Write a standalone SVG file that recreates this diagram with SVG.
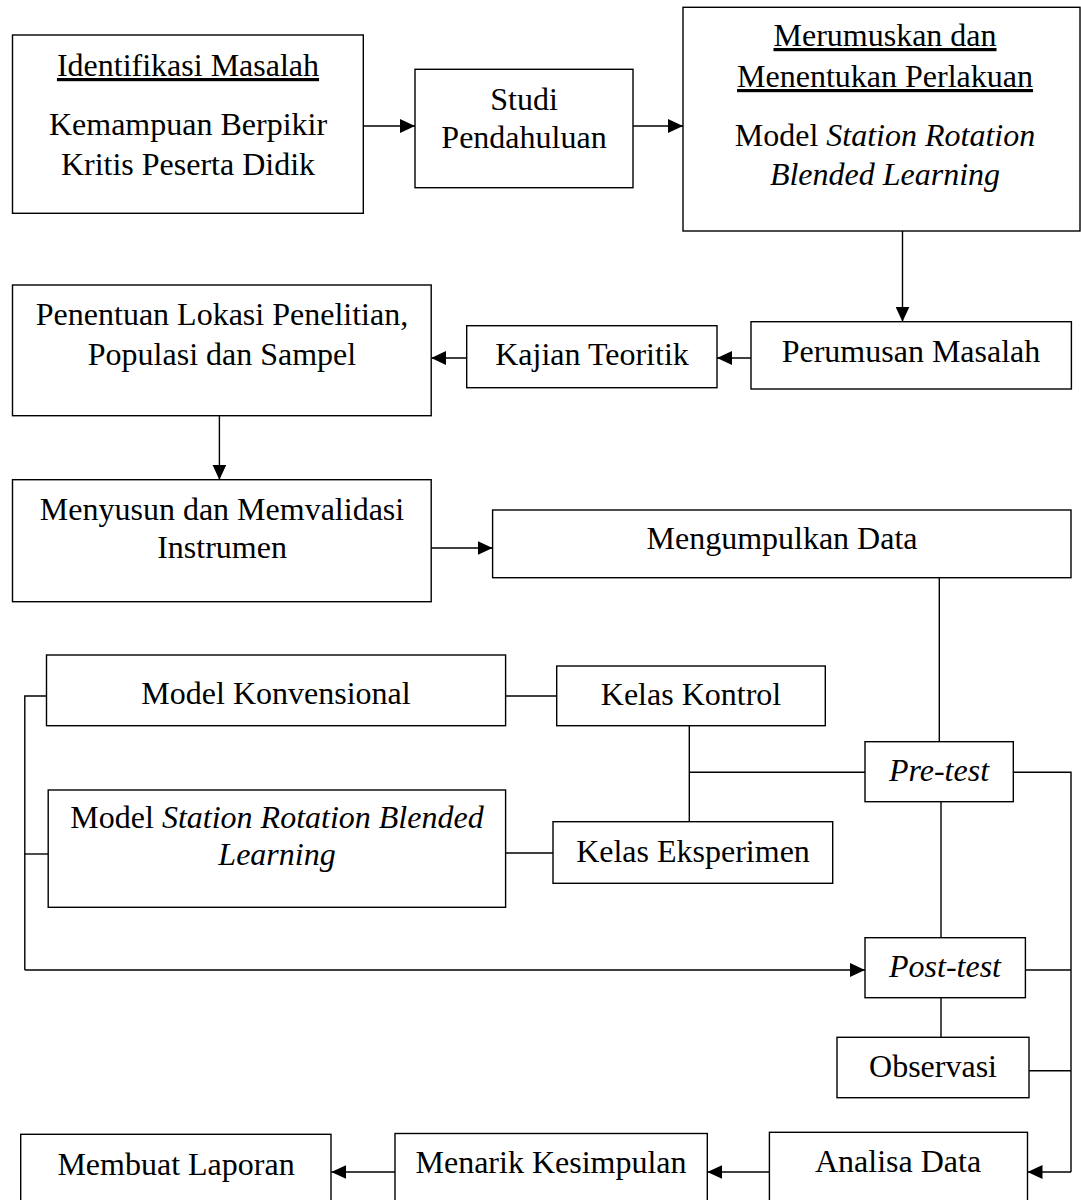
<svg xmlns="http://www.w3.org/2000/svg" width="1081" height="1200" viewBox="0 0 1081 1200">
<defs>
<style>
.box{fill:#fff;stroke:#000;stroke-width:1.4}
.ln{fill:none;stroke:#000;stroke-width:1.4}
.t{font-family:"Liberation Serif","Times New Roman",serif;font-size:32px;fill:#000;text-anchor:middle}
.u{text-decoration:underline}
.i{font-style:italic}
</style>
<marker id="ah" markerUnits="userSpaceOnUse" markerWidth="16" markerHeight="14" refX="15" refY="7" orient="auto">
<path d="M0,0 L15,7 L0,14 z" fill="#000"/>
</marker>
</defs>
<rect width="1081" height="1200" fill="#fff"/>
<g id="connectors">
<line class="ln" x1="363" y1="126" x2="415" y2="126" marker-end="url(#ah)"/>
<line class="ln" x1="633" y1="126" x2="683" y2="126" marker-end="url(#ah)"/>
<line class="ln" x1="902.5" y1="231" x2="902.5" y2="321.7" marker-end="url(#ah)"/>
<line class="ln" x1="751" y1="358" x2="717" y2="358" marker-end="url(#ah)"/>
<line class="ln" x1="466.7" y1="358" x2="431.2" y2="358" marker-end="url(#ah)"/>
<line class="ln" x1="219.4" y1="415.7" x2="219.4" y2="479.7" marker-end="url(#ah)"/>
<line class="ln" x1="431.2" y1="548" x2="492.6" y2="548" marker-end="url(#ah)"/>
<line class="ln" x1="939.3" y1="577.7" x2="939.3" y2="741.7"/>
<line class="ln" x1="505.6" y1="696" x2="556.7" y2="696"/>
<line class="ln" x1="689.3" y1="725.7" x2="689.3" y2="821.7"/>
<line class="ln" x1="689.3" y1="772.3" x2="865" y2="772.3"/>
<line class="ln" x1="505.6" y1="853" x2="553" y2="853"/>
<polyline class="ln" points="46.5,696 24.8,696 24.8,970"/>
<line class="ln" x1="48.2" y1="854" x2="24.8" y2="854"/>
<line class="ln" x1="24.8" y1="970" x2="865" y2="970" marker-end="url(#ah)"/>
<line class="ln" x1="941" y1="801.7" x2="941" y2="937.7"/>
<line class="ln" x1="941" y1="997.7" x2="941" y2="1037.3"/>
<polyline class="ln" points="1013.3,772.3 1071,772.3 1071,1172"/>
<line class="ln" x1="1025.4" y1="970" x2="1071" y2="970"/>
<line class="ln" x1="1029" y1="1070.7" x2="1071" y2="1070.7"/>
<line class="ln" x1="1071" y1="1172" x2="1027.5" y2="1172" marker-end="url(#ah)"/>
<line class="ln" x1="769.4" y1="1172" x2="707.3" y2="1172" marker-end="url(#ah)"/>
<line class="ln" x1="395" y1="1172" x2="331.3" y2="1172" marker-end="url(#ah)"/>
</g>
<g id="n-identifikasi">
<rect class="box" x="12.5" y="35" width="350.8" height="178.3"/>
<text class="t u" x="188" y="76">Identifikasi Masalah</text>
<text class="t" x="188" y="135">Kemampuan Berpikir</text>
<text class="t" x="188" y="175">Kritis Peserta Didik</text>
</g>
<g id="n-studi">
<rect class="box" x="415" y="69.3" width="218" height="118.4"/>
<text class="t" x="524" y="110">Studi</text>
<text class="t" x="524" y="148">Pendahuluan</text>
</g>
<g id="n-merumuskan">
<rect class="box" x="683" y="7.3" width="397" height="223.7"/>
<text class="t u" x="885" y="46">Merumuskan dan</text>
<text class="t u" x="885" y="87">Menentukan Perlakuan</text>
<text class="t" x="885" y="146">Model <tspan class="i">Station Rotation</tspan></text>
<text class="t i" x="885" y="185">Blended Learning</text>
</g>
<g id="n-perumusan">
<rect class="box" x="751" y="321.7" width="320.4" height="67.3"/>
<text class="t" x="911" y="362">Perumusan Masalah</text>
</g>
<g id="n-kajian">
<rect class="box" x="466.7" y="325.7" width="250.3" height="62"/>
<text class="t" x="592" y="365">Kajian Teoritik</text>
</g>
<g id="n-penentuan">
<rect class="box" x="12.5" y="285" width="418.7" height="130.7"/>
<text class="t" x="222" y="325">Penentuan Lokasi Penelitian,</text>
<text class="t" x="222" y="365">Populasi dan Sampel</text>
</g>
<g id="n-menyusun">
<rect class="box" x="12.5" y="479.7" width="418.7" height="122"/>
<text class="t" x="222" y="520">Menyusun dan Memvalidasi</text>
<text class="t" x="222" y="558">Instrumen</text>
</g>
<g id="n-mengumpulkan">
<rect class="box" x="492.6" y="510" width="578.4" height="67.7"/>
<text class="t" x="782" y="549">Mengumpulkan Data</text>
</g>
<g id="n-konvensional">
<rect class="box" x="46.5" y="655" width="459.1" height="70.7"/>
<text class="t" x="276" y="704">Model Konvensional</text>
</g>
<g id="n-srbl">
<rect class="box" x="48.2" y="790" width="457.4" height="117.3"/>
<text class="t" x="277" y="828">Model <tspan class="i">Station Rotation Blended</tspan></text>
<text class="t i" x="277" y="865">Learning</text>
</g>
<g id="n-kontrol">
<rect class="box" x="556.7" y="666" width="268.6" height="59.7"/>
<text class="t" x="691" y="705">Kelas Kontrol</text>
</g>
<g id="n-eksperimen">
<rect class="box" x="553" y="821.7" width="279.7" height="61.6"/>
<text class="t" x="693" y="862">Kelas Eksperimen</text>
</g>
<g id="n-pretest">
<rect class="box" x="865" y="741.7" width="148.3" height="60"/>
<text class="t i" x="939" y="781">Pre-test</text>
</g>
<g id="n-posttest">
<rect class="box" x="865" y="937.7" width="160.4" height="60"/>
<text class="t i" x="945" y="977">Post-test</text>
</g>
<g id="n-observasi">
<rect class="box" x="837" y="1037.3" width="192" height="60.4"/>
<text class="t" x="933" y="1077">Observasi</text>
</g>
<g id="n-analisa">
<rect class="box" x="769.4" y="1132.3" width="258.1" height="80"/>
<text class="t" x="898" y="1172">Analisa Data</text>
</g>
<g id="n-menarik">
<rect class="box" x="395" y="1133.5" width="312.3" height="80"/>
<text class="t" x="551" y="1173">Menarik Kesimpulan</text>
</g>
<g id="n-laporan">
<rect class="box" x="20.7" y="1134.3" width="310.3" height="80"/>
<text class="t" x="176" y="1175">Membuat Laporan</text>
</g>
</svg>
